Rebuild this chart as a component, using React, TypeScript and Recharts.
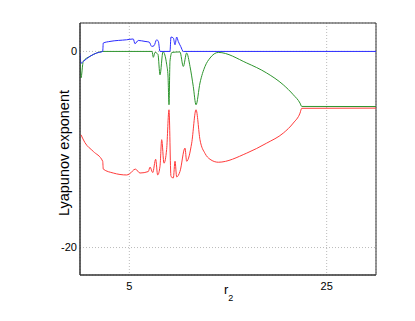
import { LineChart, Line, XAxis, YAxis, CartesianGrid, ReferenceArea } from "recharts";

// r2 values, Lyapunov exponents, as [r2, exponent]
const bluePts: [number, number][] = [
  [0, -0.2], [0.1, -1.2], [0.33, -1.02], [1.01, -0.5], [1.69, -0.16], [2.3, 0],
  [2.36, 0.86], [3.04, 1.02], [4.73, 1.19], [5.4, 1.27], [5.57, 0.79], [5.91, 1.12],
  [6.59, 1.02], [7.02, 0.95], [7.27, 0.51], [7.5, 0.58], [7.77, 1.19], [7.94, 1.02],
  [8.11, 0], [9.12, 0], [9.22, 1.47], [9.46, 1.37], [9.63, 0.68], [9.8, 1.47],
  [9.96, 1.02], [10.21, 0.5], [10.47, 0], [30, 0],
];

const greenPts: [number, number][] = [
  [0, -0.5], [0.1, -2.7], [0.33, -1.02], [1.01, -0.5], [1.69, -0.16], [2.3, 0],
  [7.3, 0], [7.43, -0.6], [7.6, -0.1], [7.9, -0.3], [8.11, -2.38], [8.41, -0.03],
  [8.79, -1.36], [8.92, -2.5], [9.02, -5.44], [9.12, -1.0], [9.32, -0.1], [10.13, -0.05],
  [10.47, -1.53], [10.81, -0.16], [11.15, -1.53], [11.48, -3.57], [11.76, -5.44],
  [12.16, -3.22], [12.67, -1.53], [13.18, -0.67], [14.02, -0.1], [16.9, -1.18],
  [18.92, -2.2], [20.6, -3.4], [21.62, -4.42], [22.3, -5.27], [22.47, -5.61], [30, -5.62],
];

const redPts: [number, number][] = [
  [0.1, -8.5], [0.5, -9.3], [1.35, -10.2], [2.3, -11.2], [2.36, -12.0], [3.37, -12.4],
  [4.73, -12.6], [5.0, -12.5], [5.61, -12.0], [6.08, -12.4], [6.92, -12.25], [7.1, -11.8],
  [7.37, -12.35], [7.67, -11.0], [7.87, -12.6], [8.11, -11.7], [8.28, -9.0], [8.51, -11.4],
  [8.78, -10.0], [9.02, -5.95], [9.22, -12.75], [9.46, -12.9], [9.63, -11.2], [9.8, -12.8],
  [10.13, -12.25], [10.64, -9.86], [10.81, -11.2], [11.32, -9.35], [11.76, -5.95],
  [12.16, -9.0], [12.67, -10.4], [13.18, -11.0], [14.02, -11.3], [16.9, -10.37],
  [18.92, -9.35], [20.6, -8.33], [21.62, -7.3], [22.3, -6.29], [22.47, -5.8], [30, -5.78],
];

const xTicks = [5, 25];
const yTicks = [-20, 0];

const toRows = (pts: [number, number][]) => pts.map(([x, y]) => ({ x, y }));

const font = "'Liberation Sans', Arial, sans-serif";

function XLabel({ viewBox }: any) {
  const cx = viewBox.x + viewBox.width / 2;
  return (
    <text x={cx - 4} y={294} fontSize={13} fontFamily={font} fill="#000">
      r<tspan fontSize={9} dy={7}>2</tspan>
    </text>
  );
}

function YLabel() {
  return (
    <text
      x={69}
      y={153}
      transform="rotate(-90 69 153)"
      textAnchor="middle"
      fontSize={14.5}
      fontFamily={font}
      fill="#000"
    >
      Lyapunov exponent
    </text>
  );
}

export default function App() {
  return (
    <div style={{ position: "absolute", left: 0, top: 0, width: 415, height: 321, background: "#fff" }}>
      <LineChart width={415} height={321} margin={{ top: 23, right: 39, bottom: 0, left: 0 }}>
        <CartesianGrid stroke="#bbb" strokeDasharray="1 2" />
        <XAxis
          type="number"
          dataKey="x"
          domain={[0, 30]}
          ticks={xTicks}
          allowDataOverflow
          height={46}
          tickLine={false}
          tickSize={0}
          tickMargin={7}
          axisLine={{ stroke: "#333" }}
          tick={{ fontSize: 11, fill: "#000", fontFamily: font }}
          label={{ content: <XLabel /> }}
        />
        <YAxis
          type="number"
          dataKey="y"
          domain={[-22.8, 2.9]}
          ticks={yTicks}
          allowDataOverflow
          width={80}
          tickLine={false}
          tickSize={0}
          tickMargin={3}
          axisLine={{ stroke: "#333" }}
          tick={{ fontSize: 11, fill: "#000", fontFamily: font }}
          label={{ content: <YLabel /> }}
        />
        <ReferenceArea x1={0} x2={30} y1={-22.8} y2={2.9} fill="none" stroke="#333" />
        <Line data={toRows(greenPts)} dataKey="y" type="monotone" stroke="#2e952e" strokeWidth={1} dot={false} isAnimationActive={false} />
        <Line data={toRows(redPts)} dataKey="y" type="monotone" stroke="#ff3b3b" strokeWidth={1} dot={false} isAnimationActive={false} />
        <Line data={toRows(bluePts)} dataKey="y" type="monotone" stroke="#2b2bff" strokeWidth={1} dot={false} isAnimationActive={false} />
      </LineChart>
    </div>
  );
}
